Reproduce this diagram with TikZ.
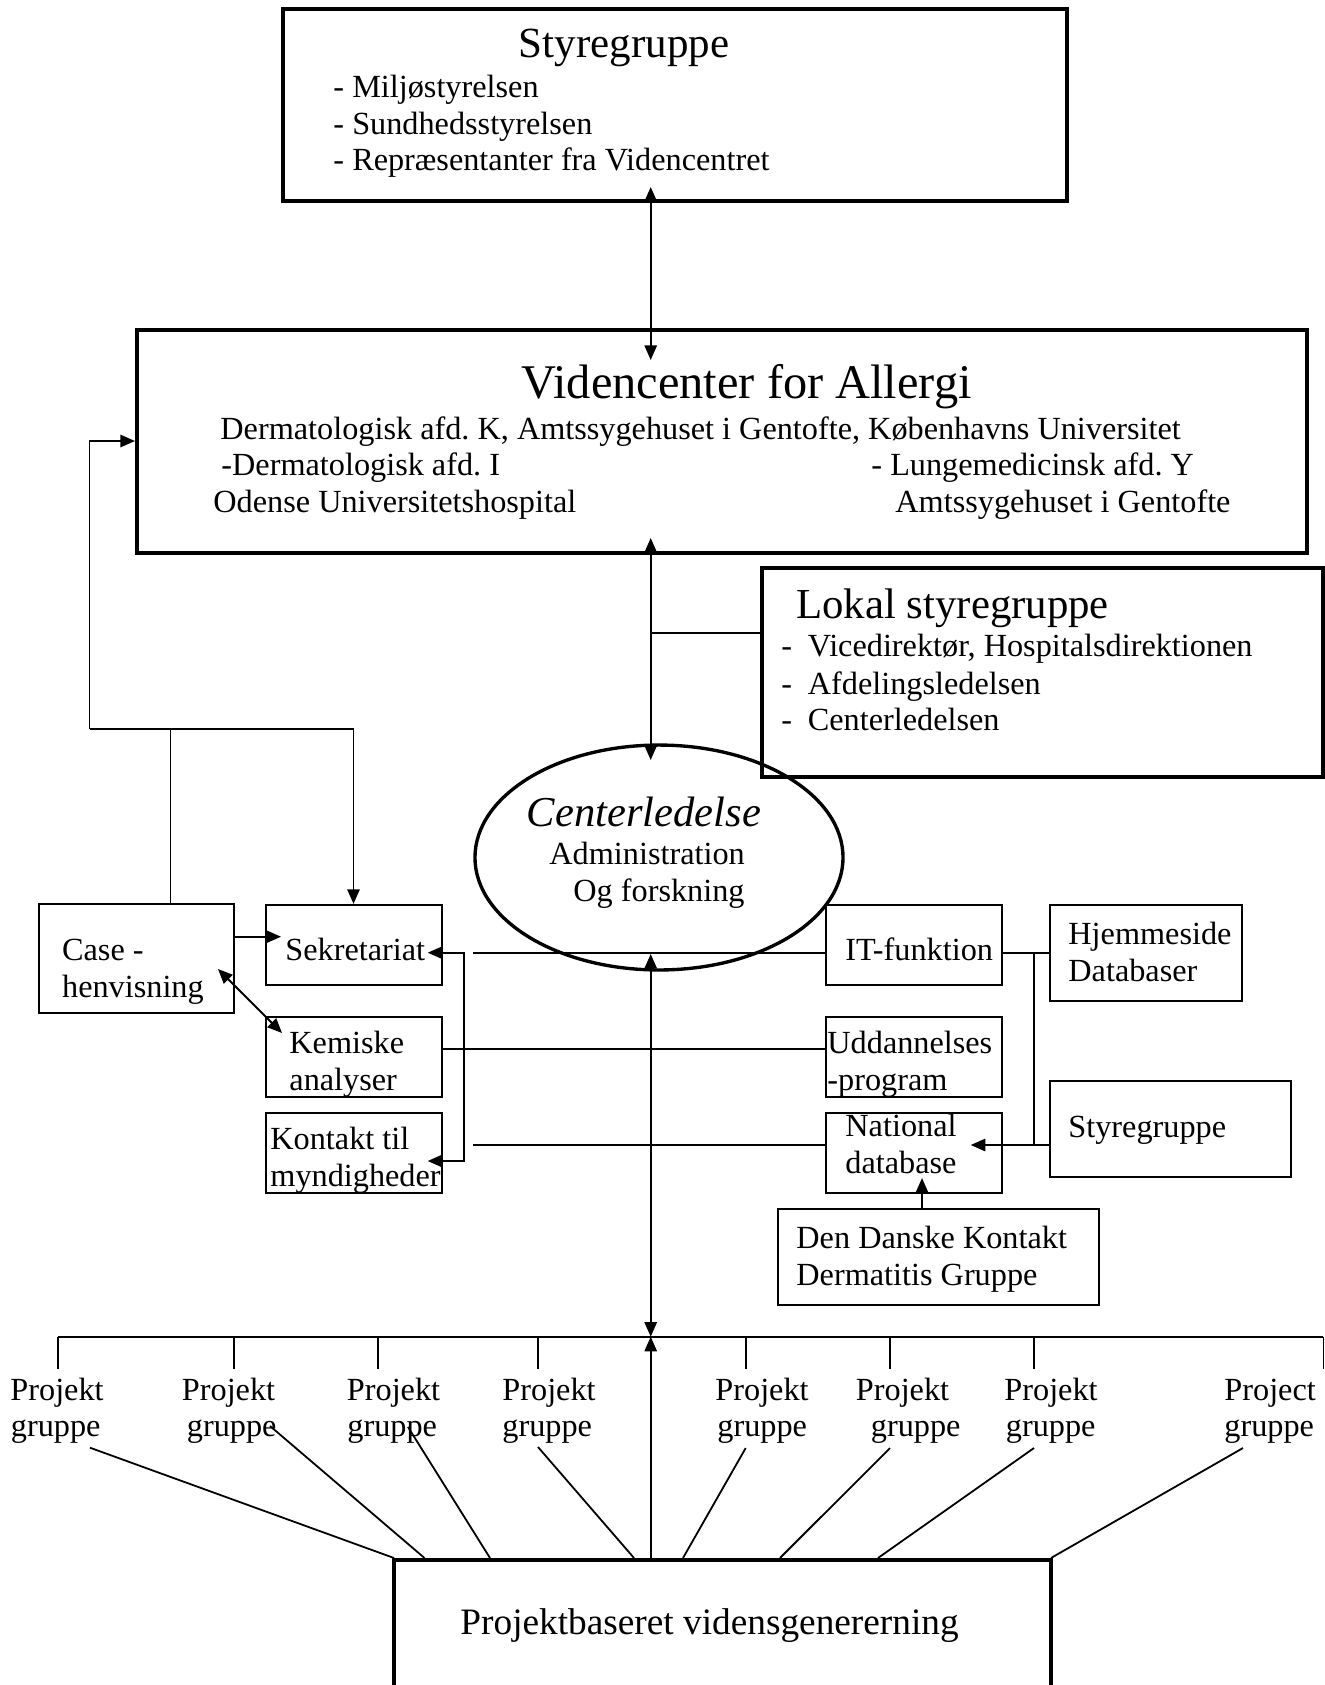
\documentclass[tikz,border=0pt]{standalone}
\usepackage{fontspec}
\setmainfont{Liberation Serif}
\usetikzlibrary{positioning}
\usetikzlibrary{shapes.geometric}
\usetikzlibrary{arrows.meta}
\usetikzlibrary{fit}
\tikzset{
    box/.style = {rectangle, draw=black, line width=1pt, inner sep=0pt},
    bigbox/.style = {rectangle, draw=black, line width=1.8pt, inner sep=0pt},
    ledelse/.style = {ellipse, draw=black, line width=1.5pt, inner sep=0pt, minimum width=164.3pt, minimum height=100.4pt},
    txt/.style = {anchor=base west, inner sep=0pt, font=\fontsize{14.4pt}{16pt}\selectfont},
    ttl/.style = {anchor=base west, inner sep=0pt, font=\fontsize{19.2pt}{22pt}\selectfont},
    edgen/.style = {line width=0.8pt},
    edgea/.style = {-{Triangle[length=6.5pt,width=5.5pt]}, line width=0.8pt},
    edgeaa/.style = {{Triangle[length=6.5pt,width=5.5pt]}-{Triangle[length=6.5pt,width=5.5pt]}, line width=0.8pt}
}
\begin{document}
\frenchspacing
\begin{tikzpicture}[x=0.4464pt,y=-0.4464pt]
\useasboundingbox (0,0) rectangle (1325,1685);
\clip (0,0) rectangle (1325,1685);
%
% boxes
\node[bigbox, fit={(283,9) (1067,201)}] (sty) {};
\node[bigbox, fit={(137,330) (1307,553)}] (vid) {};
\node[bigbox, fit={(762,568) (1323,777)}] (lok) {};
\node[ledelse] at (659,857.5) (cen) {};
\node[box, fit={(39,904) (234,1013)}] (case) {};
\node[box, fit={(266,905) (442,985)}] (sek) {};
\node[box, fit={(266,1017) (442,1097)}] (kem) {};
\node[box, fit={(266,1113) (442,1193)}] (kon) {};
\node[box, fit={(826,905) (1002,985)}] (itf) {};
\node[box, fit={(1050,905) (1242,1001)}] (hje) {};
\node[box, fit={(826,1017) (1002,1097)}] (udd) {};
\node[box, fit={(826,1113) (1002,1193)}] (nat) {};
\node[box, fit={(1050,1081) (1291,1177)}] (sty2) {};
\node[box, fit={(778,1209) (1099,1305)}] (ddk) {};
\node[bigbox, fit={(394,1560) (1051,1720)}] (pbv) {};
%
% texts
\node[ttl] at (518.5,57.4) (styT) {Styregruppe};
\node[txt] at (333,97.6) (sty1) {- Miljøstyrelsen};
\node[txt] at (333,134) (sty2a) {- Sundhedsstyrelsen};
\node[txt] at (333,170.5) (sty3) {- Repræsentanter fra Videncentret};
\node[txt, font=\fontsize{21.6pt}{24pt}\selectfont] at (521,398) (vidT) {Videncenter for Allergi};
\node[txt] at (220,439) (vid1) {Dermatologisk afd. K, Amtssygehuset i Gentofte, Københavns Universitet};
\node[txt] at (221,475.5) (vid2) {-Dermatologisk afd. I};
\node[txt] at (871,475.5) (vid3) {- Lungemedicinsk afd. Y};
\node[txt] at (213,512) (vid4) {Odense Universitetshospital};
\node[txt] at (895,512) (vid5) {Amtssygehuset i Gentofte};
\node[ttl, font=\fontsize{19.1pt}{22pt}\selectfont] at (796,618) (lokT) {Lokal styregruppe};
\node[txt] at (781,656) (lok1) {-\hspace{7pt}Vicedirektør, Hospitalsdirektionen};
\node[txt] at (781,694) (lok2) {-\hspace{7pt}Afdelingsledelsen};
\node[txt] at (781,730.5) (lok3) {-\hspace{7pt}Centerledelsen};
\node[ttl, font=\fontsize{19pt}{22pt}\selectfont\itshape] at (526.4,826) (cenT) {Centerledelse};
\node[txt] at (549,864.5) (cen1) {Administration};
\node[txt] at (573,901) (cen2) {Og forskning};
\node[txt] at (61.7,960) (case1) {Case -};
\node[txt] at (61.7,997) (case2) {henvisning};
\node[txt] at (285,960) (sek1) {Sekretariat};
\node[txt] at (289,1053) (kem1) {Kemiske};
\node[txt] at (289,1090) (kem2) {analyser};
\node[txt] at (270,1149) (kon1) {Kontakt til};
\node[txt] at (270,1186) (kon2) {myndigheder};
\node[txt] at (845,960) (itf1) {IT-funktion};
\node[txt] at (1068,944) (hje1) {Hjemmeside};
\node[txt] at (1068,981) (hje2) {Databaser};
\node[txt] at (827,1053) (udd1) {Uddannelses};
\node[txt] at (827,1090) (udd2) {-program};
\node[txt] at (845,1136) (nat1) {National};
\node[txt] at (845,1173) (nat2) {database};
\node[txt] at (1068,1137) (sty2T) {Styregruppe};
\node[txt] at (796,1248) (ddk1) {Den Danske Kontakt};
\node[txt] at (796,1285) (ddk2) {Dermatitis Gruppe};
\node[txt, font=\fontsize{16.65pt}{19pt}\selectfont] at (460,1634) (pbvT) {Projektbaseret vidensgenererning};
\foreach \n/\xa/\xb/\w in {1/10/10.5/Projekt, 2/181.5/186.5/Projekt, 3/346.5/347/Projekt, 4/502/502/Projekt,
                           5/715/717/Projekt, 6/855.5/870.5/Projekt, 7/1004/1005.5/Projekt, 8/1224/1224/Project}{
    \node[txt] at (\xa,1400) (pa\n) {\w};
    \node[txt] at (\xb,1436) (pb\n) {gruppe};
}
%
% spine
\coordinate (s1) at (650.7,187);
\coordinate (v1) at (650.7,360);
\coordinate (v2) at (650.7,538);
\coordinate (c1) at (650.7,760);
\coordinate (c2) at (650.7,954);
\coordinate (b0) at (650.7,1336.7);
\coordinate (j1) at (650.7,632.7);
\draw[edgeaa] (s1) -- (v1);
\draw[edgeaa] (v2) -- (c1);
\draw[edgen] (j1) -- (j1 -| lok.west);
\draw[edgeaa] (c2) -- (b0);
\draw[edgea] (b0 |- pbv.north) -- (b0);
%
% project bar
\draw[edgen] (57.5,1336.7) -- (1323.4,1336.7);
\foreach \x in {58.3, 234.3, 377.7, 538, 745.7, 890, 1034, 1323.4}
    \draw[edgen] (\x,1336.7) -- (\x,1369);
\foreach \xt/\yt/\xb in {90/1447.7/394, 270/1426/424.5, 408/1427/490, 538/1447/634,
                         745.7/1448/683, 890/1448/780, 1034/1448/878, 1243/1448/1051}
    \draw[edgen] (\xt,\yt) -- (\xb,0 |- pbv.north);
%
% left loop
\coordinate (lp1) at (89.6,729);
\coordinate (lp2) at (353.5,729);
\coordinate (lp3) at (89.6,441);
\coordinate (lpc) at (170.5,729);
\draw[edgen] (lpc |- case.north) -- (lpc);
\draw[edgea] (lp1) -- (lp2) -- (lp2 |- sek.north);
\draw[edgea] (lp1) -- (lp3) -- (lp3 -| vid.west);
%
% left boxes
\coordinate (sekin) at (281,936.7);
\draw[edgea] (case.east |- sekin) -- (sekin);
\coordinate (casein) at (218,969);
\coordinate (kemin) at (282,1033);
\draw[edgeaa] (casein) -- (kemin);
\coordinate (sekr) at (427.7,952.7);
\coordinate (konr) at (427.7,1161);
\draw[edgeaa] (sekr) -- (464,952.7) -- (464,1161) -- (konr);
\draw[edgen] (473,952.7) -- (itf.west |- sekr);
\draw[edgen] (kem.east |- 0,1049) -- (udd.west |- 0,1049);
\draw[edgen] (473,1145) -- (nat.west |- 0,1145);
%
% right boxes
\draw[edgen] (itf.east |- sekr) -- (hje.west |- sekr);
\draw[edgen] (1034,952.7) -- (1034,1145);
\coordinate (natin) at (970.7,1145);
\draw[edgea] (sty2.west |- natin) -- (natin);
\coordinate (natlo) at (922,1178);
\draw[edgea] (ddk.north -| natlo) -- (natlo);

\end{tikzpicture}
\end{document}
